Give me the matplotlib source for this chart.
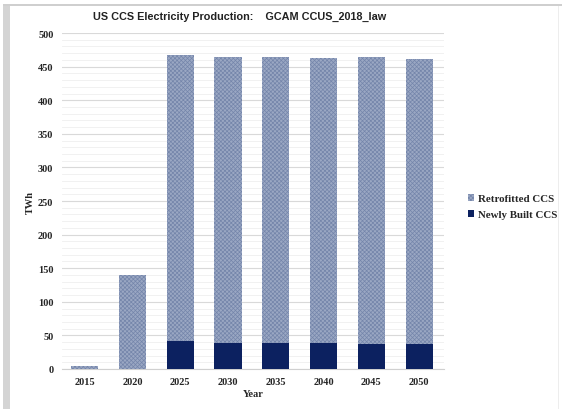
import matplotlib
matplotlib.use("Agg")
import matplotlib.pyplot as plt
from matplotlib.patches import Rectangle
import numpy as np

years = ["2015", "2020", "2025", "2030", "2035", "2040", "2045", "2050"]
newly_built = [0, 0, 41, 38, 38, 38, 37, 37]
retrofitted = [4, 140, 426, 427, 427, 425, 427, 425]

plt.rcParams['hatch.linewidth'] = 0.5
plt.rcParams['hatch.color'] = '#7485aa'

fig = plt.figure(figsize=(5.62, 4.10), dpi=100)
ax = fig.add_axes([0.110, 0.0976, 0.680, 0.8194])

x = np.arange(len(years))
w = 0.57
ax.bar(x, newly_built, width=w, color='#0c2160', linewidth=0, label='Newly Built CCS', zorder=3)
ax.bar(x, retrofitted, width=w, bottom=newly_built, color='#9aa7c3', hatch='xxxxxxxx',
       linewidth=0, label='Retrofitted CCS', zorder=3)

ax.set_xlim(-0.48, 7.52)
ax.set_ylim(0, 500)
ax.set_yticks(np.arange(0, 501, 50))
ax.set_yticks(np.arange(0, 501, 10), minor=True)
ax.grid(axis='y', which='major', color='#d9d9d9', linewidth=0.8, zorder=0)
ax.grid(axis='y', which='minor', color='#efefef', linewidth=0.6, zorder=0)
ax.tick_params(axis='y', which='both', length=0, pad=6)
ax.tick_params(axis='x', length=0, pad=6)
ax.set_xticks(x)
ax.set_xticklabels(years)
for lbl in ax.get_xticklabels() + ax.get_yticklabels():
    lbl.set_fontfamily('Liberation Serif')
    lbl.set_fontweight('bold')
    lbl.set_fontsize(7.5)
    lbl.set_color('#262626')
for s in ['top', 'right', 'left']:
    ax.spines[s].set_visible(False)
ax.spines['bottom'].set_color('#d0d0d0')

ax.set_xlabel('Year', fontfamily='Liberation Serif', fontweight='bold', fontsize=7.5,
              color='#262626', labelpad=2)
ax.set_ylabel('TWh', fontfamily='Liberation Serif', fontweight='bold', fontsize=7.5,
              color='#262626', labelpad=2)

fig.text(0.427, 0.958, 'US CCS Electricity Production:    GCAM CCUS_2018_law',
         ha='center', va='center', fontfamily='Liberation Sans', fontweight='bold',
         fontsize=7.8, color='#222222')

handles, labels = ax.get_legend_handles_labels()
leg = fig.legend(handles[::-1], labels[::-1], loc='center left', bbox_to_anchor=(0.815, 0.494),
                 frameon=False, prop={'family': 'Liberation Serif', 'weight': 'bold', 'size': 7.8},
                 handlelength=0.6, handleheight=0.6, handletextpad=0.3, labelspacing=0.6)
for t in leg.get_texts():
    t.set_color('#262626')

# screenshot-like frame
fig.patches.append(Rectangle((0.005, 0.0), 0.012, 0.988, transform=fig.transFigure,
                             facecolor='#d4d4d4', edgecolor='none'))
fig.patches.append(Rectangle((0.005, 0.982), 0.995, 0.006, transform=fig.transFigure,
                             facecolor='#cfcfcf', edgecolor='none'))
fig.patches.append(Rectangle((0.992, 0.0), 0.003, 0.982, transform=fig.transFigure,
                             facecolor='#ededed', edgecolor='none'))

fig.savefig('out.png', dpi=100)
